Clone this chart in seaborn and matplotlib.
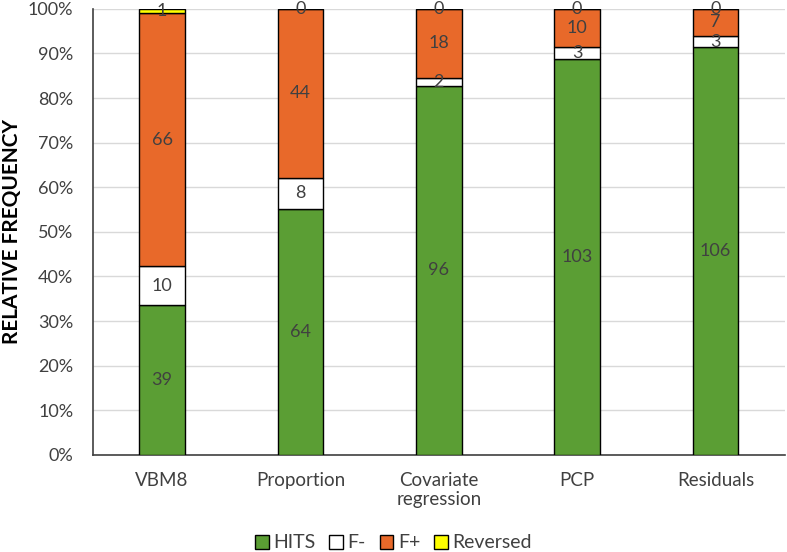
import numpy as np
import pandas as pd
import matplotlib.pyplot as plt
import seaborn as sns
from matplotlib.patches import Patch

methods = ["VBM8", "Proportion", "Covariate\nregression", "PCP", "Residuals"]
hits = [39, 64, 96, 103, 106]
f_minus = [10, 8, 2, 3, 3]
f_plus = [66, 44, 18, 10, 7]
reversed_ = [1, 0, 0, 0, 0]

series_names = ["HITS", "F-", "F+", "Reversed"]
series_colors = ["#5B9E34", "#FFFFFF", "#E8692A", "#FFFF00"]

sns.set_style("white")
plt.rcParams['font.family'] = ['Lato', 'DejaVu Sans']

counts = np.array([hits, f_minus, f_plus, reversed_], dtype=float)
totals = counts.sum(axis=0)
shares = counts / totals * 100

fig, ax = plt.subplots(figsize=(7.87, 5.52), dpi=100)

bottom = np.zeros(len(methods))
for name, color, share, cnt in zip(series_names, series_colors, shares, counts):
    df = pd.DataFrame({"method": methods, "share": share})
    sns.barplot(data=df, x="method", y="share", color=color, bottom=bottom,
                width=0.33, edgecolor="black", linewidth=1.0, ax=ax,
                saturation=1, zorder=3)
    for i in range(len(methods)):
        ax.text(i, bottom[i] + share[i] / 2, f"{int(cnt[i])}", ha="center",
                va="center", fontsize=13, color="#404040", zorder=5)
    bottom = bottom + share

ax.set_ylim(0, 100)
ax.set_xlim(-0.5, len(methods) - 0.5)
ax.set_yticks(np.arange(0, 101, 10))
ax.set_yticklabels([f"{v}%" for v in range(0, 101, 10)], fontsize=13, color="#404040")
ax.tick_params(axis="x", labelsize=13.5, labelcolor="#404040", length=0, pad=12)
ax.tick_params(axis="y", length=0, pad=14)
ax.yaxis.grid(True, color="#D9D9D9", linewidth=1, zorder=0)
ax.set_axisbelow(True)
for s in ["top", "right"]:
    ax.spines[s].set_visible(False)
ax.spines["bottom"].set_color("#404040")
ax.spines["bottom"].set_linewidth(1.2)
ax.spines["left"].set_color("#404040")
ax.spines["left"].set_linewidth(1.2)

ax.set_xlabel("")
ax.set_ylabel("RELATIVE FREQUENCY", fontsize=15, fontweight="bold", color="black")
ax.yaxis.set_label_coords(-0.102, 0.5)

handles = [Patch(facecolor=c, edgecolor="black", label=n) for n, c in zip(series_names, series_colors)]
fig.legend(handles=handles, loc="center", ncol=4, frameon=False, fontsize=14,
           handlelength=0.7, handleheight=0.7, handletextpad=0.25, columnspacing=0.7,
           bbox_to_anchor=(0.5, 1 - 543 / 552), labelcolor="#404040")

plt.subplots_adjust(left=0.118, right=0.997, top=0.984, bottom=0.176)
fig.savefig("out.png", dpi=100)
